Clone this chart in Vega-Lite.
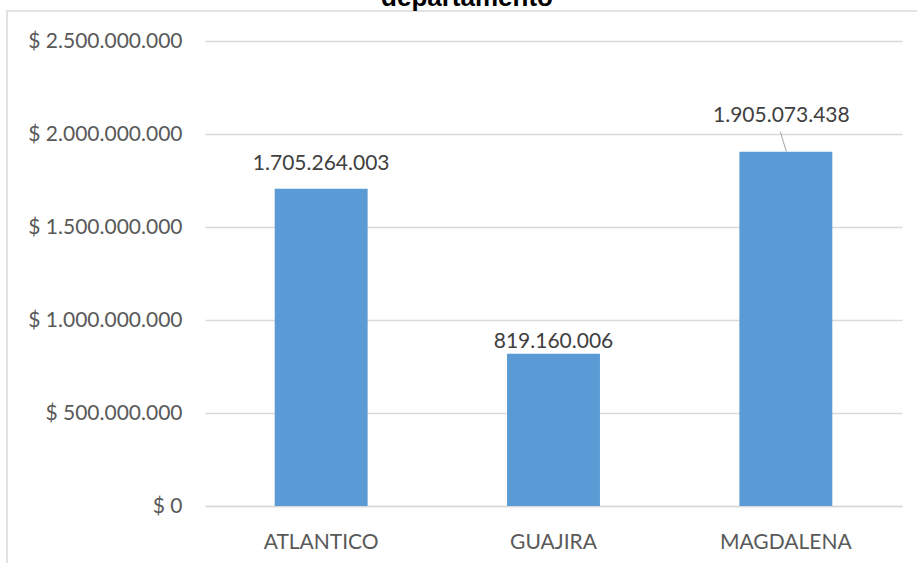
{
  "$schema": "https://vega.github.io/schema/vega-lite/v6.json",
  "autosize": {"type": "none"},
  "padding": {"left": 7, "top": 11, "right": -20, "bottom": -20},
  "width": 930,
  "height": 572,
  "config": {
    "locale": {"number": {"decimal": ",", "thousands": ".", "grouping": [3], "currency": ["$ ", ""]}},
    "view": {"stroke": "#D9D9D9", "strokeWidth": 1.5},
    "font": "Lato"
  },
  "title": {
    "text": "departamento",
    "font": "Liberation Sans",
    "fontSize": 26,
    "fontWeight": "bold",
    "color": "#000000",
    "anchor": "middle",
    "frame": "group",
    "baseline": "alphabetic",
    "offset": -21,
    "dx": -5
  },
  "data": {
    "values": [
      {"departamento": "ATLANTICO", "valor": 1705264003},
      {"departamento": "GUAJIRA", "valor": 819160006},
      {"departamento": "MAGDALENA", "valor": 1905073438}
    ]
  },
  "encoding": {
    "x": {
      "field": "departamento",
      "type": "nominal",
      "sort": null,
      "scale": {"range": [198, 895], "paddingInner": 0.6, "paddingOuter": 0.3},
      "axis": {
        "title": null,
        "orient": "bottom",
        "offset": -77,
        "labelAngle": 0,
        "labelFont": "Lato",
        "labelFontSize": 21,
        "labelColor": "#595959",
        "labelPadding": 25,
        "ticks": false,
        "domainColor": "#D9D9D9",
        "domainWidth": 1.5,
        "grid": false
      }
    },
    "y": {
      "field": "valor",
      "type": "quantitative",
      "scale": {"domain": [0, 2500000000], "range": [495, 30], "nice": false},
      "axis": {
        "title": null,
        "offset": -198,
        "values": [0, 500000000, 1000000000, 1500000000, 2000000000, 2500000000],
        "format": "$,.0f",
        "labelFont": "Lato",
        "labelFontSize": 21,
        "labelColor": "#595959",
        "labelPadding": 23,
        "ticks": false,
        "domain": false,
        "grid": true,
        "gridColor": "#D9D9D9",
        "gridWidth": 1.5
      }
    }
  },
  "layer": [
    {"mark": {"type": "bar", "color": "#5B9BD5"}},
    {
      "transform": [{"filter": "datum.departamento === 'ATLANTICO'"}],
      "mark": {"type": "text", "baseline": "alphabetic", "dy": -19, "font": "Lato", "fontSize": 21, "color": "#404040"},
      "encoding": {"text": {"field": "valor", "type": "quantitative", "format": ",.0f"}}
    },
    {
      "transform": [{"filter": "datum.departamento === 'GUAJIRA'"}],
      "mark": {"type": "text", "baseline": "alphabetic", "dy": -5.5, "font": "Lato", "fontSize": 21, "color": "#404040"},
      "encoding": {"text": {"field": "valor", "type": "quantitative", "format": ",.0f"}}
    },
    {
      "transform": [{"filter": "datum.departamento === 'MAGDALENA'"}],
      "mark": {"type": "text", "baseline": "alphabetic", "dy": -30, "dx": -4.5, "font": "Lato", "fontSize": 21, "color": "#404040"},
      "encoding": {"text": {"field": "valor", "type": "quantitative", "format": ",.0f"}}
    },
    {
      "transform": [{"filter": "datum.departamento === 'MAGDALENA'"}],
      "mark": {"type": "rule", "color": "#A6A6A6", "strokeWidth": 1, "xOffset": 0.5, "x2Offset": -5.5, "y2Offset": -20},
      "encoding": {
        "x2": {"field": "departamento"},
        "y2": {"field": "valor"}
      }
    }
  ]
}
